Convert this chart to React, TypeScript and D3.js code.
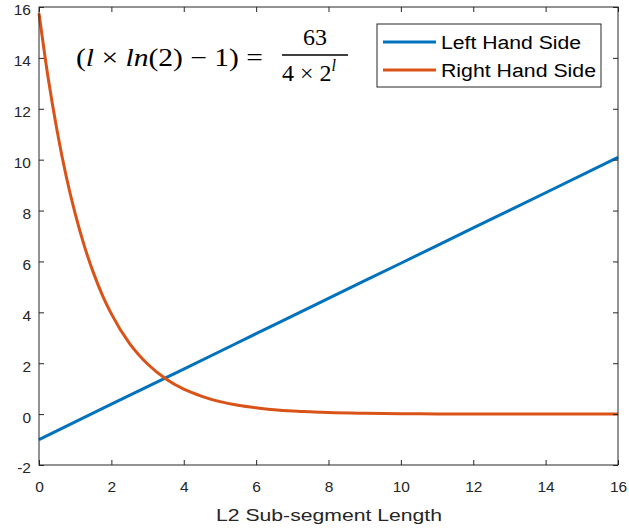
// Chart: LHS vs RHS of (l*ln(2)-1) = 63/(4*2^l), MATLAB style
import React, { useRef, useEffect } from 'react';
import * as d3 from 'd3';

// values
const lhsX = [0, 2, 4, 6, 8, 10, 12, 14, 16];
const lhsY = [-1, 0.39, 1.77, 3.16, 4.55, 5.93, 7.32, 8.7, 10.09];

const rhsX = [0, 0.25, 0.5, 0.75, 1, 1.25, 1.5, 1.75, 2, 2.5, 3, 3.5, 4, 4.5, 5, 5.5, 6, 6.5, 7, 7.5, 8, 9, 10, 11, 12, 13, 14, 15, 16];
const rhsY = [15.75, 13.24, 11.14, 9.36, 7.88, 6.62, 5.57, 4.68, 3.94, 2.78, 1.97, 1.39, 0.98, 0.7, 0.49, 0.35, 0.25, 0.17, 0.12, 0.09, 0.06, 0.03, 0.015, 0.008, 0.004, 0.002, 0.001, 0.0005, 0.0002];

const xTicks = [0, 2, 4, 6, 8, 10, 12, 14, 16];
const yTicks = [-2, 0, 2, 4, 6, 8, 10, 12, 14, 16];
const seriesNames = ['Left Hand Side', 'Right Hand Side'];
const seriesColors = ['#0072BD', '#D95319'];

export default function App() {
  const ref = useRef<SVGSVGElement>(null);
  const width = 629;
  const height = 531;
  const margin = { top: 7, right: 11, bottom: 66, left: 39 };

  useEffect(() => {
    const svg = d3.select(ref.current);
    svg.selectAll('*').remove();

    const x = d3.scaleLinear().domain([0, 16]).range([margin.left, width - margin.right]);
    const y = d3.scaleLinear().domain([-2, 16]).range([height - margin.bottom, margin.top]);
    const axisColor = '#262626';
    const font = 'Liberation Sans, Arial, sans-serif';

    svg.append('rect').attr('width', width).attr('height', height).attr('fill', 'white');

    // curves
    const line = d3.line<[number, number]>()
      .x(d => x(d[0]))
      .y(d => y(d[1]))
      .curve(d3.curveMonotoneX);

    const series: [number, number][][] = [
      lhsX.map((v, i) => [v, lhsY[i]]),
      rhsX.map((v, i) => [v, rhsY[i]])
    ];
    series.forEach((s, i) => {
      svg.append('path')
        .datum(s)
        .attr('d', line)
        .attr('fill', 'none')
        .attr('stroke', seriesColors[i])
        .attr('stroke-width', 3);
    });

    // axes, ticks point inwards
    const styleAxis = (g: any) => {
      g.select('.domain').remove();
      g.selectAll('line').attr('stroke', axisColor);
      g.selectAll('text').attr('fill', axisColor).style('font-family', font).style('font-size', '15.5px');
    };
    const plain = (d: any) => String(d);
    svg.append('g')
      .attr('transform', `translate(0,${height - margin.bottom})`)
      .call(d3.axisBottom(x).tickValues(xTicks).tickFormat(plain).tickSizeInner(-5).tickSizeOuter(0).tickPadding(16))
      .call(styleAxis);
    svg.append('g')
      .attr('transform', `translate(0,${margin.top})`)
      .call(d3.axisTop(x).tickValues(xTicks).tickSizeInner(-5).tickSizeOuter(0).tickFormat(() => ''))
      .call(styleAxis);
    svg.append('g')
      .attr('transform', `translate(${margin.left},0)`)
      .call(d3.axisLeft(y).tickValues(yTicks).tickFormat(plain).tickSizeInner(-5).tickSizeOuter(0).tickPadding(8))
      .call(styleAxis)
      .call((g: any) => g.selectAll('text').attr('y', 3));
    svg.append('g')
      .attr('transform', `translate(${width - margin.right},0)`)
      .call(d3.axisRight(y).tickValues(yTicks).tickSizeInner(-5).tickSizeOuter(0).tickFormat(() => ''))
      .call(styleAxis);

    svg.append('rect')
      .attr('x', margin.left).attr('y', margin.top)
      .attr('width', width - margin.right - margin.left)
      .attr('height', height - margin.bottom - margin.top)
      .attr('fill', 'none').attr('stroke', axisColor).attr('stroke-width', 1);

    svg.append('text')
      .attr('x', 216)
      .attr('y', 521)
      .attr('textLength', 226)
      .attr('lengthAdjust', 'spacingAndGlyphs')
      .attr('fill', axisColor)
      .style('font-family', font).style('font-size', '17px')
      .text('L2 Sub-segment Length');

    // legend
    const lg = svg.append('g');
    lg.append('rect').attr('x', 377).attr('y', 24).attr('width', 224).attr('height', 63)
      .attr('fill', 'white').attr('stroke', axisColor).attr('stroke-width', 1);
    const legendWidths = [140, 155];
    seriesNames.forEach((name, i) => {
      const ly = 42 + i * 28;
      lg.append('line').attr('x1', 383).attr('x2', 436).attr('y1', ly).attr('y2', ly)
        .attr('stroke', seriesColors[i]).attr('stroke-width', 3);
      lg.append('text').attr('x', 441).attr('y', ly + 7)
        .attr('textLength', legendWidths[i])
        .attr('lengthAdjust', 'spacingAndGlyphs')
        .attr('fill', 'black')
        .style('font-family', font).style('font-size', '18px')
        .text(name);
    });

    // equation annotation
    const serif = 'Liberation Serif, DejaVu Serif, serif';
    const eq = svg.append('text').attr('x', 76).attr('y', 66)
      .attr('textLength', 187)
      .attr('lengthAdjust', 'spacingAndGlyphs')
      .style('font-family', serif).style('font-size', '25px').attr('fill', 'black');
    eq.append('tspan').text('(');
    eq.append('tspan').style('font-style', 'italic').text('l');
    eq.append('tspan').text(' × ');
    eq.append('tspan').style('font-style', 'italic').text('ln');
    eq.append('tspan').text('(2) − 1) =');

    svg.append('line').attr('x1', 282).attr('x2', 348).attr('y1', 55).attr('y2', 55)
      .attr('stroke', 'black').attr('stroke-width', 1.3);
    svg.append('text').attr('x', 315).attr('y', 45).attr('text-anchor', 'middle')
      .style('font-family', serif).style('font-size', '24px').text('63');
    const den = svg.append('text').attr('x', 282).attr('y', 81)
      .attr('fill', 'black')
      .style('font-family', serif).style('font-size', '24px');
    den.append('tspan').text('4 × 2');
    den.append('tspan').attr('dy', -10).style('font-size', '16px').style('font-style', 'italic').text('l');
  }, []);

  return (
    <svg ref={ref} width={width} height={height}
      style={{ position: 'absolute', left: 0, top: 0, display: 'block' }} />
  );
}
